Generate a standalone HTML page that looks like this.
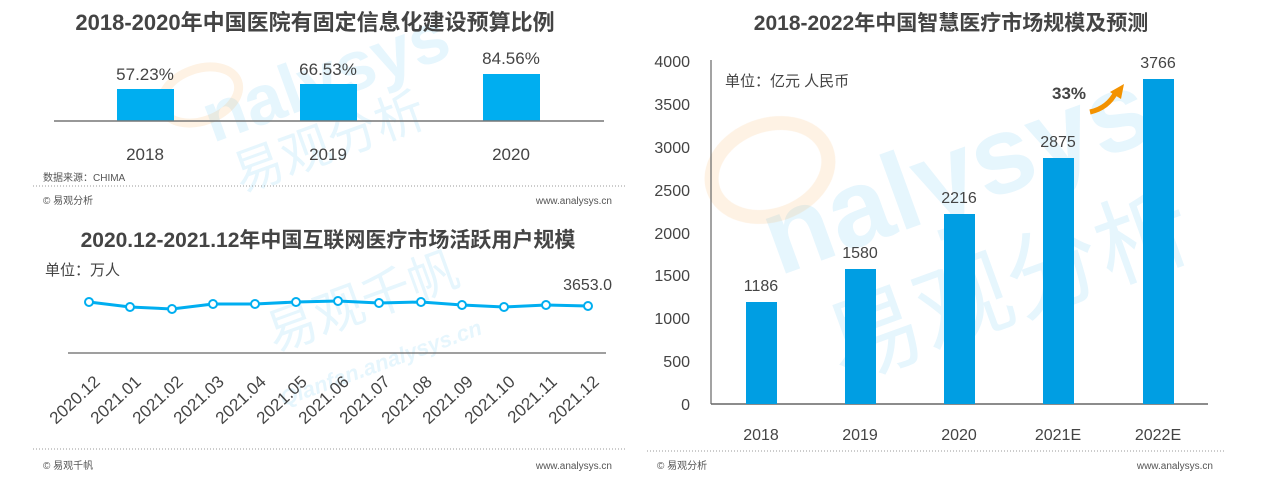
<!DOCTYPE html>
<html><head><meta charset="utf-8"><style>
body{margin:0;background:#fff;width:1268px;height:479px;overflow:hidden}
svg text{font-family:"Liberation Sans","Noto Sans CJK SC",sans-serif}
</style></head><body>
<svg width="1268" height="479" viewBox="0 0 1268 479" xmlns="http://www.w3.org/2000/svg">
<g opacity="0.1">
<text x="200" y="110" font-size="70" font-weight="bold" fill="#00a0e9" transform="rotate(-20 300 90)">nalysys</text>
<text x="230" y="170" font-size="50" fill="#00a0e9" transform="rotate(-20 300 150)">易观分析</text>
<text x="760" y="230" font-size="110" font-weight="bold" fill="#00a0e9" transform="rotate(-20 900 200)">nalysys</text>
<text x="820" y="340" font-size="95" fill="#00a0e9" transform="rotate(-20 950 300)">易观分析</text>
<text x="260" y="330" font-size="50" fill="#00a0e9" transform="rotate(-20 330 300)">易观千帆</text>
<text x="270" y="370" font-size="22" font-style="italic" font-weight="bold" fill="#00a0e9" transform="rotate(-20 380 350)">Qianfan.analysys.cn</text>
</g>
<ellipse cx="200" cy="95" rx="40" ry="26" fill="none" stroke="#f7a54a" stroke-width="9" opacity="0.15" transform="rotate(-20 200 95)"/>
<ellipse cx="770" cy="170" rx="60" ry="45" fill="none" stroke="#f7a54a" stroke-width="14" opacity="0.15" transform="rotate(-20 770 170)"/>

<text x="315" y="30" font-size="22" font-weight="bold" fill="#444" text-anchor="middle">2018-2020年中国医院有固定信息化建设预算比例</text>
<rect x="117" y="89" width="57" height="32" fill="#00aef0"/>
<rect x="300" y="84" width="57" height="37" fill="#00aef0"/>
<rect x="483" y="74" width="57" height="47" fill="#00aef0"/>
<line x1="54" y1="121" x2="604" y2="121" stroke="#777" stroke-width="1.5"/>
<g font-size="17" fill="#444" text-anchor="middle">
<text x="145" y="80">57.23%</text><text x="328" y="75">66.53%</text><text x="511" y="64">84.56%</text>
<text x="145" y="160">2018</text><text x="328" y="160">2019</text><text x="511" y="160">2020</text>
</g>
<text x="43" y="181" font-size="10" fill="#555">数据来源：CHIMA</text>
<line x1="33" y1="186" x2="625" y2="186" stroke="#999" stroke-dasharray="1,2"/>
<text x="43" y="204" font-size="10" fill="#555">© 易观分析</text>
<text x="612" y="204" font-size="10" fill="#555" text-anchor="end">www.analysys.cn</text>

<text x="328" y="247" font-size="21" font-weight="bold" fill="#444" text-anchor="middle">2020.12-2021.12年中国互联网医疗市场活跃用户规模</text>
<text x="45" y="275" font-size="15" fill="#444">单位：万人</text>
<line x1="68" y1="353" x2="606" y2="353" stroke="#666" stroke-width="1.2"/>
<polyline fill="none" stroke="#00aef0" stroke-width="3" points="89,302 130,307 172,309 213,304 255,304 296,302 338,301 379,303 421,302 462,305 504,307 546,305 588,306"/>
<g fill="#fff" stroke="#00aef0" stroke-width="2">
<circle cx="89" cy="302" r="4"/><circle cx="130" cy="307" r="4"/><circle cx="172" cy="309" r="4"/><circle cx="213" cy="304" r="4"/><circle cx="255" cy="304" r="4"/><circle cx="296" cy="302" r="4"/><circle cx="338" cy="301" r="4"/><circle cx="379" cy="303" r="4"/><circle cx="421" cy="302" r="4"/><circle cx="462" cy="305" r="4"/><circle cx="504" cy="307" r="4"/><circle cx="546" cy="305" r="4"/><circle cx="588" cy="306" r="4"/>
</g>
<text x="612" y="290" font-size="16" fill="#444" text-anchor="end">3653.0</text>
<g font-size="17" fill="#444" text-anchor="end">
<text transform="translate(101,383) rotate(-43)">2020.12</text>
<text transform="translate(142,383) rotate(-43)">2021.01</text>
<text transform="translate(184,383) rotate(-43)">2021.02</text>
<text transform="translate(225,383) rotate(-43)">2021.03</text>
<text transform="translate(267,383) rotate(-43)">2021.04</text>
<text transform="translate(308,383) rotate(-43)">2021.05</text>
<text transform="translate(350,383) rotate(-43)">2021.06</text>
<text transform="translate(391,383) rotate(-43)">2021.07</text>
<text transform="translate(433,383) rotate(-43)">2021.08</text>
<text transform="translate(474,383) rotate(-43)">2021.09</text>
<text transform="translate(516,383) rotate(-43)">2021.10</text>
<text transform="translate(558,383) rotate(-43)">2021.11</text>
<text transform="translate(600,383) rotate(-43)">2021.12</text>
</g>
<line x1="33" y1="449" x2="625" y2="449" stroke="#999" stroke-dasharray="1,2"/>
<text x="43" y="469" font-size="10" fill="#555">© 易观千帆</text>
<text x="612" y="469" font-size="10" fill="#555" text-anchor="end">www.analysys.cn</text>

<text x="951" y="30" font-size="21" font-weight="bold" fill="#444" text-anchor="middle">2018-2022年中国智慧医疗市场规模及预测</text>
<line x1="711" y1="60" x2="711" y2="404" stroke="#666" stroke-width="1.2"/>
<line x1="711" y1="404" x2="1208" y2="404" stroke="#666" stroke-width="1.5"/>
<g font-size="16" fill="#444" text-anchor="end">
<text x="690" y="410">0</text><text x="690" y="367">500</text><text x="690" y="324">1000</text><text x="690" y="281">1500</text><text x="690" y="239">2000</text><text x="690" y="196">2500</text><text x="690" y="153">3000</text><text x="690" y="110">3500</text><text x="690" y="67">4000</text>
</g>
<text x="725" y="86" font-size="15" fill="#444">单位：亿元 人民币</text>
<g fill="#009ee3">
<rect x="746" y="302" width="31" height="102"/>
<rect x="845" y="269" width="31" height="135"/>
<rect x="944" y="214" width="31" height="190"/>
<rect x="1043" y="158" width="31" height="246"/>
<rect x="1143" y="79" width="31" height="325"/>
</g>
<g font-size="16" fill="#444" text-anchor="middle">
<text x="761" y="291">1186</text><text x="860" y="258">1580</text><text x="959" y="203">2216</text><text x="1058" y="147">2875</text><text x="1158" y="68">3766</text>
<text x="761" y="440">2018</text><text x="860" y="440">2019</text><text x="959" y="440">2020</text><text x="1058" y="440">2021E</text><text x="1158" y="440">2022E</text>
</g>
<text x="1052" y="99" font-size="17" font-weight="bold" fill="#444">33%</text>
<path d="M1090,112 Q1108,108 1116,92" fill="none" stroke="#f39200" stroke-width="5"/>
<polygon points="1110,92 1124,84 1121,99" fill="#f39200"/>
<line x1="647" y1="451" x2="1225" y2="451" stroke="#999" stroke-dasharray="1,2"/>
<text x="657" y="469" font-size="10" fill="#555">© 易观分析</text>
<text x="1213" y="469" font-size="10" fill="#555" text-anchor="end">www.analysys.cn</text>
</svg>
</body></html>
